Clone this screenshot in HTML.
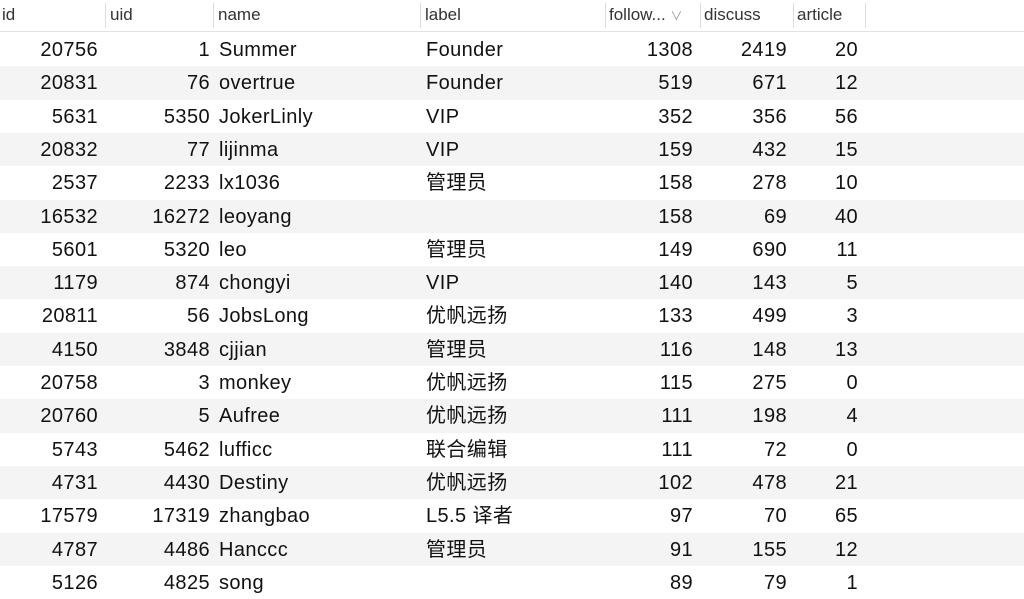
<!DOCTYPE html>
<html><head><meta charset="utf-8"><style>
body{margin:0;width:1024px;height:599px;overflow:hidden;background:#fff;font-family:"Liberation Sans","Noto Sans CJK SC",sans-serif;}
.hdr{position:absolute;left:0;top:0;width:1024px;height:31px;border-bottom:1px solid #e2e2e2;background:#fff;}
.h{position:absolute;top:5px;font-size:17px;color:#333;line-height:20px;}
.sep{position:absolute;top:3px;width:1px;height:25px;background:#ddd;}
.row{position:absolute;left:0;width:1024px;height:33.3px;}
.row.alt{background:#f4f4f4;}
.c{position:absolute;top:5px;font-size:20px;line-height:24px;height:24px;color:#111;white-space:nowrap;letter-spacing:0.4px;}
.r{text-align:right;}
</style></head><body>
<div class="hdr">
<span class="h" style="left:2px">id</span>
<div class="sep" style="left:105px"></div>
<span class="h" style="left:110px">uid</span>
<div class="sep" style="left:213px"></div>
<span class="h" style="left:218px">name</span>
<div class="sep" style="left:420px"></div>
<span class="h" style="left:425px">label</span>
<div class="sep" style="left:605px"></div>
<span class="h" style="left:609px">follow... <span style="color:#999;font-size:12px">&#8744;</span></span>
<div class="sep" style="left:700px"></div>
<span class="h" style="left:704px">discuss</span>
<div class="sep" style="left:793px"></div>
<span class="h" style="left:797px">article</span>
<div class="sep" style="left:865px"></div>
</div>
<div id="body"></div>
<script>
const ids=[20756,20831,5631,20832,2537,16532,5601,1179,20811,4150,20758,20760,5743,4731,17579,4787,5126];
const uids=[1,76,5350,77,2233,16272,5320,874,56,3848,3,5,5462,4430,17319,4486,4825];
const names=["Summer","overtrue","JokerLinly","lijinma","lx1036","leoyang","leo","chongyi","JobsLong","cjjian","monkey","Aufree","lufficc","Destiny","zhangbao","Hanccc","song"];
const labels=["Founder","Founder","VIP","VIP","管理员","","管理员","VIP","优帆远扬","管理员","优帆远扬","优帆远扬","联合编辑","优帆远扬","L5.5 译者","管理员",""];
const follows=[1308,519,352,159,158,158,149,140,133,116,115,111,111,102,97,91,89];
const discuss=[2419,671,356,432,278,69,690,143,499,148,275,198,72,478,70,155,79];
const articles=[20,12,56,15,10,40,11,5,3,13,0,4,0,21,65,12,1];
const body=document.getElementById('body');
function cell(row,txt,style,cls,name){
  const s=document.createElement('span');
  s.className='c '+cls;s.textContent=txt;s.style.cssText=style;
  
  
  row.appendChild(s);
}
ids.forEach((id,i)=>{
  const row=document.createElement('div');
  row.className='row'+(i%2?' alt':'');
  row.style.top=(33+i*33.3)+'px';
  
  
  cell(row,id,'right:926px','r','id-cell');
  cell(row,uids[i],'right:814px','r','uid-cell');
  cell(row,names[i],'left:219px','','name-cell');
  cell(row,labels[i],'left:426px','','label-cell');
  cell(row,follows[i],'right:331px','r','followers-cell');
  cell(row,discuss[i],'right:237px','r','discuss-cell');
  cell(row,articles[i],'right:166px','r','article-cell');
  body.appendChild(row);
});
</script>
</body></html>
